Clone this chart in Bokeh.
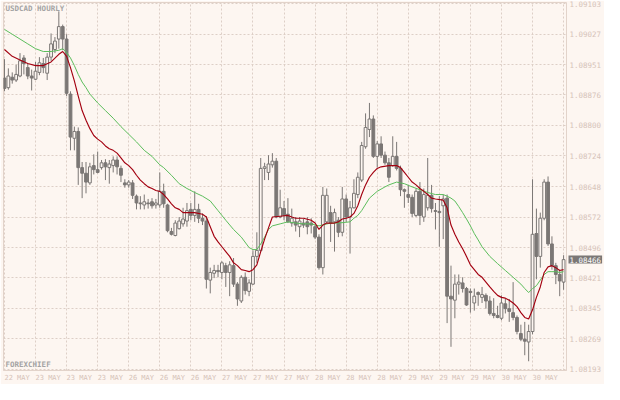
from bokeh.plotting import figure
from bokeh.models import Range1d, FixedTicker, Label, ColumnDataSource, PrintfTickFormatter
from bokeh.embed import file_html
from bokeh.resources import INLINE

title_text = "USDCAD HOURLY"
brand_text = "FOREXCHIEF"
date_labels = ["22 MAY", "23 MAY", "23 MAY", "23 MAY", "26 MAY", "26 MAY", "26 MAY",
               "27 MAY", "27 MAY", "27 MAY", "28 MAY", "28 MAY", "28 MAY", "29 MAY",
               "29 MAY", "29 MAY", "30 MAY", "30 MAY", "30 MAY"]
price_ticks = [1.09103, 1.09027, 1.08951, 1.08876, 1.08800, 1.08724, 1.08648,
               1.08572, 1.08496, 1.08421, 1.08345, 1.08269, 1.08193]
last_price = 1.08466

opens = [1.08918, 1.08894, 1.08920, 1.08913, 1.08923, 1.08968, 1.08944, 1.08923, 1.08915, 1.08932,
         1.08954, 1.08930, 1.08970, 1.08989, 1.09015, 1.09046, 1.09015, 1.08878, 1.08768, 1.08785,
         1.08695, 1.08681, 1.08657, 1.08700, 1.08690, 1.08695, 1.08707, 1.08695, 1.08700, 1.08714,
         1.08693, 1.08657, 1.08652, 1.08657, 1.08624, 1.08607, 1.08602, 1.08607, 1.08610, 1.08602,
         1.08602, 1.08636, 1.08602, 1.08536, 1.08526, 1.08543, 1.08555, 1.08562, 1.08591, 1.08576,
         1.08591, 1.08569, 1.08562, 1.08415, 1.08432, 1.08439, 1.08434, 1.08451, 1.08434, 1.08451,
         1.08405, 1.08363, 1.08422, 1.08387, 1.08405, 1.08474, 1.08489, 1.08693, 1.08683, 1.08702,
         1.08711, 1.08572, 1.08593, 1.08579, 1.08557, 1.08560, 1.08548, 1.08557, 1.08560, 1.08557,
         1.08548, 1.08522, 1.08446, 1.08560, 1.08583, 1.08560, 1.08564, 1.08534, 1.08617, 1.08572,
         1.08595, 1.08628, 1.08664, 1.08747, 1.08790, 1.08816, 1.08723, 1.08754, 1.08726, 1.08707,
         1.08700, 1.08723, 1.08693, 1.08640, 1.08628, 1.08621, 1.08576, 1.08636, 1.08572, 1.08595,
         1.08626, 1.08588, 1.08586, 1.08600, 1.08619, 1.08375, 1.08365, 1.08405, 1.08408, 1.08394,
         1.08387, 1.08358, 1.08384, 1.08372, 1.08377, 1.08363, 1.08332, 1.08327, 1.08320, 1.08356,
         1.08344, 1.08334, 1.08322, 1.08282, 1.08268, 1.08261, 1.08287, 1.08531, 1.08474, 1.08569,
         1.08659, 1.08505, 1.08451, 1.08429, 1.08410]

highs = [1.08965, 1.08942, 1.08932, 1.08951, 1.08980, 1.08975, 1.08954, 1.08939, 1.08958, 1.08970,
         1.08968, 1.08980, 1.09029, 1.09020, 1.09084, 1.09051, 1.09027, 1.08885, 1.08797, 1.08795,
         1.08709, 1.08709, 1.08707, 1.08728, 1.08735, 1.08714, 1.08716, 1.08714, 1.08723, 1.08723,
         1.08700, 1.08666, 1.08664, 1.08664, 1.08628, 1.08624, 1.08628, 1.08617, 1.08619, 1.08617,
         1.08683, 1.08655, 1.08605, 1.08545, 1.08564, 1.08572, 1.08595, 1.08607, 1.08607, 1.08636,
         1.08605, 1.08581, 1.08574, 1.08446, 1.08453, 1.08453, 1.08462, 1.08458, 1.08462, 1.08470,
         1.08410, 1.08427, 1.08434, 1.08417, 1.08489, 1.08534, 1.08719, 1.08707, 1.08726, 1.08731,
         1.08719, 1.08640, 1.08612, 1.08619, 1.08593, 1.08572, 1.08572, 1.08567, 1.08572, 1.08569,
         1.08552, 1.08529, 1.08647, 1.08643, 1.08600, 1.08593, 1.08572, 1.08647, 1.08628, 1.08612,
         1.08666, 1.08683, 1.08759, 1.08830, 1.08856, 1.08825, 1.08761, 1.08773, 1.08735, 1.08719,
         1.08773, 1.08759, 1.08700, 1.08643, 1.08652, 1.08628, 1.08643, 1.08659, 1.08643, 1.08719,
         1.08652, 1.08607, 1.08624, 1.08628, 1.08628, 1.08451, 1.08429, 1.08429, 1.08422, 1.08398,
         1.08394, 1.08394, 1.08387, 1.08398, 1.08382, 1.08375, 1.08370, 1.08351, 1.08377, 1.08368,
         1.08368, 1.08410, 1.08327, 1.08304, 1.08311, 1.08304, 1.08666, 1.08593, 1.08583, 1.08666,
         1.08673, 1.08524, 1.08458, 1.08441, 1.08477]

lows = [1.08885, 1.08889, 1.08904, 1.08908, 1.08920, 1.08927, 1.08915, 1.08887, 1.08913, 1.08925,
        1.08930, 1.08913, 1.08961, 1.08980, 1.08991, 1.08987, 1.08873, 1.08738, 1.08738, 1.08652,
        1.08619, 1.08631, 1.08652, 1.08678, 1.08681, 1.08690, 1.08664, 1.08655, 1.08683, 1.08678,
        1.08659, 1.08645, 1.08645, 1.08617, 1.08591, 1.08591, 1.08591, 1.08593, 1.08593, 1.08593,
        1.08595, 1.08595, 1.08534, 1.08526, 1.08524, 1.08541, 1.08548, 1.08548, 1.08564, 1.08560,
        1.08557, 1.08552, 1.08394, 1.08382, 1.08420, 1.08422, 1.08417, 1.08398, 1.08375, 1.08398,
        1.08351, 1.08358, 1.08379, 1.08375, 1.08403, 1.08458, 1.08486, 1.08664, 1.08664, 1.08695,
        1.08569, 1.08569, 1.08564, 1.08557, 1.08548, 1.08536, 1.08522, 1.08545, 1.08529, 1.08531,
        1.08517, 1.08441, 1.08429, 1.08557, 1.08510, 1.08486, 1.08522, 1.08524, 1.08560, 1.08481,
        1.08593, 1.08619, 1.08659, 1.08742, 1.08771, 1.08719, 1.08695, 1.08719, 1.08702, 1.08659,
        1.08697, 1.08688, 1.08624, 1.08595, 1.08607, 1.08572, 1.08572, 1.08552, 1.08560, 1.08588,
        1.08583, 1.08541, 1.08498, 1.08517, 1.08308, 1.08249, 1.08320, 1.08379, 1.08384, 1.08351,
        1.08334, 1.08339, 1.08351, 1.08358, 1.08344, 1.08327, 1.08320, 1.08320, 1.08315, 1.08332,
        1.08311, 1.08315, 1.08280, 1.08263, 1.08228, 1.08213, 1.08280, 1.08417, 1.08446, 1.08564,
        1.08500, 1.08441, 1.08405, 1.08375, 1.08391]

closes = [1.08892, 1.08923, 1.08913, 1.08927, 1.08961, 1.08954, 1.08923, 1.08918, 1.08935, 1.08956,
          1.08944, 1.08970, 1.09003, 1.09010, 1.09046, 1.09015, 1.08880, 1.08771, 1.08785, 1.08695,
          1.08681, 1.08659, 1.08697, 1.08690, 1.08683, 1.08707, 1.08697, 1.08704, 1.08714, 1.08697,
          1.08676, 1.08652, 1.08659, 1.08626, 1.08607, 1.08605, 1.08610, 1.08605, 1.08600, 1.08607,
          1.08636, 1.08605, 1.08538, 1.08529, 1.08557, 1.08562, 1.08567, 1.08588, 1.08576, 1.08591,
          1.08569, 1.08562, 1.08417, 1.08434, 1.08439, 1.08436, 1.08458, 1.08434, 1.08453, 1.08405,
          1.08368, 1.08422, 1.08389, 1.08408, 1.08474, 1.08489, 1.08693, 1.08697, 1.08704, 1.08711,
          1.08572, 1.08595, 1.08576, 1.08560, 1.08569, 1.08552, 1.08562, 1.08552, 1.08548, 1.08552,
          1.08522, 1.08446, 1.08626, 1.08626, 1.08557, 1.08583, 1.08534, 1.08617, 1.08572, 1.08595,
          1.08631, 1.08671, 1.08750, 1.08795, 1.08816, 1.08723, 1.08754, 1.08726, 1.08707, 1.08671,
          1.08723, 1.08693, 1.08640, 1.08636, 1.08621, 1.08581, 1.08636, 1.08576, 1.08628, 1.08626,
          1.08593, 1.08586, 1.08583, 1.08617, 1.08375, 1.08368, 1.08405, 1.08410, 1.08394, 1.08353,
          1.08384, 1.08375, 1.08379, 1.08379, 1.08363, 1.08332, 1.08327, 1.08322, 1.08358, 1.08344,
          1.08337, 1.08322, 1.08287, 1.08268, 1.08263, 1.08287, 1.08529, 1.08474, 1.08569, 1.08659,
          1.08505, 1.08451, 1.08429, 1.08413, 1.08466]

fast_ma_bar = [0, 2, 4, 6, 8, 10, 12, 14, 15, 16, 17, 18, 19, 20, 21, 22, 23, 24, 25, 26,
               27, 28, 29, 30, 31, 32, 33, 34, 35, 36, 37, 38, 39, 40, 41, 42, 43, 44, 45, 46,
               48, 49, 51, 52, 53, 54, 55, 56, 57, 58, 59, 60, 61, 62, 63, 64, 65, 66, 67, 68,
               69, 71, 73, 74, 75, 77, 79, 80, 81, 82, 83, 85, 86, 87, 88, 89, 90, 91, 92, 93,
               94, 95, 96, 97, 99, 101, 102, 103, 104, 105, 106, 107, 108, 109, 110, 111, 113, 114, 115, 116,
               117, 118, 119, 120, 121, 122, 123, 124, 125, 126, 127, 128, 129, 130, 131, 132, 133, 134, 135, 136,
               137, 138, 139, 140, 141, 142, 143, 144]
fast_ma = [1.08989, 1.08972, 1.08963, 1.08954, 1.08949, 1.08949, 1.08958, 1.08977, 1.08984, 1.08972,
           1.08944, 1.08911, 1.08873, 1.08837, 1.08813, 1.08792, 1.08775, 1.08766, 1.08759, 1.08749,
           1.08742, 1.08738, 1.08731, 1.08719, 1.08707, 1.08700, 1.08690, 1.08676, 1.08664, 1.08655,
           1.08647, 1.08643, 1.08638, 1.08636, 1.08628, 1.08617, 1.08605, 1.08595, 1.08591, 1.08583,
           1.08583, 1.08583, 1.08579, 1.08572, 1.08548, 1.08524, 1.08510, 1.08498, 1.08486, 1.08474,
           1.08458, 1.08451, 1.08441, 1.08439, 1.08436, 1.08441, 1.08453, 1.08486, 1.08517, 1.08545,
           1.08572, 1.08574, 1.08576, 1.08572, 1.08569, 1.08569, 1.08564, 1.08557, 1.08541, 1.08552,
           1.08557, 1.08557, 1.08560, 1.08567, 1.08569, 1.08572, 1.08581, 1.08600, 1.08628, 1.08652,
           1.08671, 1.08683, 1.08693, 1.08697, 1.08700, 1.08700, 1.08695, 1.08683, 1.08671, 1.08659,
           1.08652, 1.08643, 1.08636, 1.08628, 1.08619, 1.08617, 1.08614, 1.08595, 1.08552, 1.08529,
           1.08510, 1.08493, 1.08474, 1.08453, 1.08441, 1.08429, 1.08422, 1.08410, 1.08398, 1.08387,
           1.08377, 1.08372, 1.08370, 1.08365, 1.08358, 1.08349, 1.08334, 1.08322, 1.08318, 1.08341,
           1.08372, 1.08398, 1.08434, 1.08448, 1.08451, 1.08446, 1.08439, 1.08441]

slow_ma_bar = [0, 2, 4, 6, 8, 10, 12, 14, 15, 16, 17, 18, 19, 20, 21, 22, 24, 26, 28, 30,
               32, 34, 36, 38, 40, 41, 43, 45, 47, 49, 51, 53, 55, 57, 59, 61, 63, 64, 65, 66,
               67, 68, 69, 71, 73, 75, 77, 79, 81, 84, 86, 89, 90, 91, 92, 94, 96, 98, 99, 101,
               103, 105, 107, 109, 111, 113, 114, 115, 116, 117, 118, 119, 120, 121, 122, 123, 125, 127, 129, 131,
               133, 134, 135, 136, 137, 138, 139, 140, 141, 142, 143, 144]
slow_ma = [1.09039, 1.09027, 1.09015, 1.09003, 1.08991, 1.08984, 1.08984, 1.08987, 1.08991, 1.08982,
           1.08968, 1.08949, 1.08927, 1.08908, 1.08894, 1.08878, 1.08856, 1.08837, 1.08818, 1.08797,
           1.08778, 1.08759, 1.08738, 1.08723, 1.08702, 1.08695, 1.08676, 1.08655, 1.08643, 1.08633,
           1.08624, 1.08612, 1.08588, 1.08564, 1.08541, 1.08522, 1.08496, 1.08491, 1.08491, 1.08505,
           1.08522, 1.08541, 1.08550, 1.08555, 1.08560, 1.08557, 1.08555, 1.08555, 1.08550, 1.08557,
           1.08557, 1.08560, 1.08569, 1.08576, 1.08588, 1.08619, 1.08636, 1.08647, 1.08652, 1.08659,
           1.08655, 1.08647, 1.08640, 1.08633, 1.08628, 1.08628, 1.08624, 1.08619, 1.08612, 1.08598,
           1.08583, 1.08567, 1.08550, 1.08531, 1.08515, 1.08498, 1.08474, 1.08456, 1.08439, 1.08422,
           1.08405, 1.08394, 1.08384, 1.08394, 1.08401, 1.08415, 1.08429, 1.08436, 1.08436, 1.08436,
           1.08434, 1.08436]

BG = "#fdf6f1"
CANDLE = "#7b7775"
GRID = "#ddcfc6"
LINE = "#e2d3ca"
AXIS_TXT = "#d6c3b9"
FONT = "DejaVu Sans Mono"

n = len(opens)
idx = list(range(n))
bull = [c >= o for o, c in zip(opens, closes)]
src = ColumnDataSource(dict(
    x=idx, high=highs, low=lows,
    top=[max(o, c) for o, c in zip(opens, closes)],
    bottom=[min(o, c) for o, c in zip(opens, closes)],
    fill=[BG if b else CANDLE for b in bull],
))

p = figure(width=604, height=384, output_backend="svg", toolbar_location=None,
           x_range=Range1d(-0.25, n - 0.25), y_range=Range1d(1.08190, 1.09106),
           y_axis_location="right", min_border_left=3, min_border_top=2,
           min_border_right=0, min_border_bottom=0)
p.background_fill_color = BG
p.border_fill_color = BG
p.outline_line_color = LINE

grid_ticks = list(range(0, n, 8))
p.xgrid.ticker = FixedTicker(ticks=grid_ticks)
p.ygrid.ticker = FixedTicker(ticks=price_ticks)
for g in (p.xgrid, p.ygrid):
    g.grid_line_color = GRID
    g.grid_line_dash = "2 2"
    g.grid_line_width = 1

# date labels start at their grid line (left aligned, as in the terminal)
label_pos = [t + 3.25 for t in grid_ticks]
xa = p.xaxis[0]
xa.ticker = FixedTicker(ticks=label_pos)
xa.major_label_overrides = {pos: lbl for pos, lbl in zip(label_pos, date_labels)}
xa.axis_line_color = LINE
xa.major_tick_line_color = None
xa.major_tick_out = 2
xa.major_label_standoff = 1
xa.major_label_text_font_size = "7px"

ya = p.yaxis[0]
ya.ticker = FixedTicker(ticks=price_ticks)
ya.formatter = PrintfTickFormatter(format="%.5f")
ya.axis_line_color = None
ya.major_tick_line_color = None
ya.major_tick_out = 0
ya.major_label_standoff = -31
ya.major_label_text_font_size = "7.5px"

for ax in (xa, ya):
    ax.major_tick_in = 0
    ax.minor_tick_line_color = None
    ax.major_label_text_color = AXIS_TXT
    ax.major_label_text_font = FONT

p.segment(x0="x", y0="low", x1="x", y1="high", source=src, line_color=CANDLE, line_width=1)
p.vbar(x="x", top="top", bottom="bottom", width=0.72, source=src,
       fill_color="fill", line_color=CANDLE, line_width=1)

p.line(slow_ma_bar, slow_ma, line_color="#5cbd5c", line_width=1)
p.line(fast_ma_bar, fast_ma, line_color="#a30010", line_width=1.15)

p.add_layout(Label(x=-0.25, y=1.09106, x_offset=2, y_offset=-1, text=title_text,
                   text_baseline="top", text_color="#a3a3a3", text_font=FONT,
                   text_font_size="7.5px", text_font_style="bold"))
p.add_layout(Label(x=-0.25, y=1.08190, x_offset=2, y_offset=2, text=brand_text,
                   text_baseline="bottom", text_color="#a3a3a3", text_font=FONT,
                   text_font_size="7.5px", text_font_style="bold"))

price_label = Label(x=n - 0.25, y=last_price, x_offset=2, text=f"{last_price:.5f}",
                    text_baseline="middle", text_align="left", text_color="white",
                    background_fill_color=CANDLE, text_font=FONT,
                    text_font_size="7.5px", padding=1)
p.right = [price_label] + list(p.right)

open("out.html", "w").write(file_html(p, INLINE))
